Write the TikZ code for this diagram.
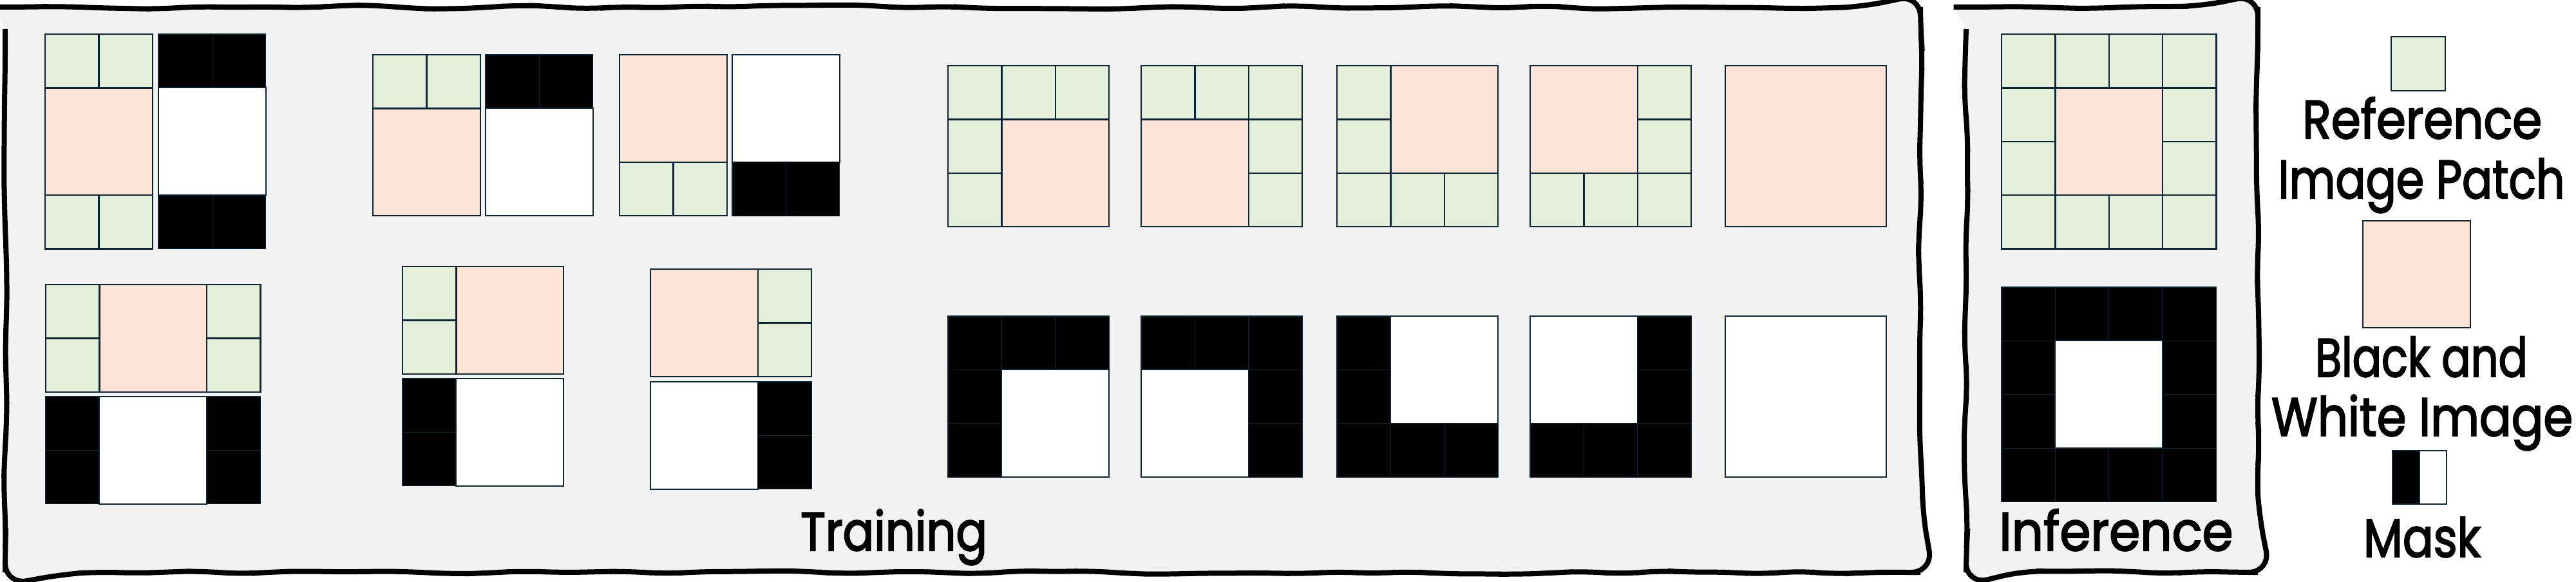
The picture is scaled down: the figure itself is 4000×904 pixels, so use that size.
\documentclass[tikz,border=0pt]{standalone}
\usepackage{fontspec}
\setmainfont{Poppins}
\newfontfamily\lblfont{Poppins}[FakeBold=2.6]
\usepackage{graphicx}
\usetikzlibrary{decorations.pathmorphing}
\definecolor{bgC}{HTML}{F2F2F2}
\definecolor{gC}{HTML}{E2EFDA}
\definecolor{pC}{HTML}{FCE4D6}
\definecolor{lineC}{HTML}{0E2433}
\tikzset{
  gcell/.style={fill=gC, draw=lineC, line width=2.5pt},
  pcell/.style={fill=pC, draw=lineC, line width=2.5pt},
  bcell/.style={fill=black, draw=lineC, line width=1.3pt},
  wcell/.style={fill=white, draw=lineC, line width=2pt},
  gpos/.style 2 args={xshift=#1pt, yshift=-#2pt, x=83.4pt, y=-83.4pt},
  handbox/.style={draw=black, line width=8pt, fill=bgC, decorate,
    decoration={random steps, segment length=55pt, amplitude=3.5pt},
    rounded corners=34pt},
  lbl/.style={font=\lblfont\fontsize{84}{96}\selectfont, inner sep=0pt, anchor=base}
}
\newcommand\cellG[2]{\draw[gcell] (#1,#2) rectangle ++(1,1);}
\newcommand\cellB[2]{\draw[bcell] (#1,#2) rectangle ++(1,1);}
\newcommand\blockP[4]{\draw[pcell] (#1,#2) rectangle (#3,#4);}
\newcommand\blockW[4]{\draw[wcell] (#1,#2) rectangle (#3,#4);}
\begin{document}
\begin{tikzpicture}[x=1pt, y=-1pt]
\pgfmathsetseed{11}
\useasboundingbox (0,0) rectangle (4000,904);
\fill[white] (0,0) rectangle (4000,904);
% frames
\draw[handbox] (8,11) rectangle (2982,889);
\draw[handbox] (3053,11) rectangle (3506,889);
% ---------- G1
\begin{scope}[gpos={70}{53}]
\cellG{0}{0}\cellG{1}{0}\blockP{0}{1}{2}{3}\cellG{0}{3}\cellG{1}{3}
\end{scope}
\begin{scope}[gpos={246}{53}]
\cellB{0}{0}\cellB{1}{0}\blockW{0}{1}{2}{3}\cellB{0}{3}\cellB{1}{3}
\end{scope}
% ---------- G2
\begin{scope}[gpos={579}{85}]
\cellG{0}{0}\cellG{1}{0}\blockP{0}{1}{2}{3}
\end{scope}
\begin{scope}[gpos={754}{85}]
\cellB{0}{0}\cellB{1}{0}\blockW{0}{1}{2}{3}
\end{scope}
% ---------- G3
\begin{scope}[gpos={962}{85}]
\blockP{0}{0}{2}{2}\cellG{0}{2}\cellG{1}{2}
\end{scope}
\begin{scope}[gpos={1137}{85}]
\blockW{0}{0}{2}{2}\cellB{0}{2}\cellB{1}{2}
\end{scope}
% ---------- G4
\begin{scope}[gpos={71}{442}]
\cellG{0}{0}\cellG{0}{1}\blockP{1}{0}{3}{2}\cellG{3}{0}\cellG{3}{1}
\end{scope}
\begin{scope}[gpos={71}{616}]
\cellB{0}{0}\cellB{0}{1}\blockW{1}{0}{3}{2}\cellB{3}{0}\cellB{3}{1}
\end{scope}
% ---------- G5
\begin{scope}[gpos={625}{414}]
\cellG{0}{0}\cellG{0}{1}\blockP{1}{0}{3}{2}
\end{scope}
\begin{scope}[gpos={625}{588}]
\cellB{0}{0}\cellB{0}{1}\blockW{1}{0}{3}{2}
\end{scope}
% ---------- G6
\begin{scope}[gpos={1010}{418}]
\blockP{0}{0}{2}{2}\cellG{2}{0}\cellG{2}{1}
\end{scope}
\begin{scope}[gpos={1010}{593}]
\blockW{0}{0}{2}{2}\cellB{2}{0}\cellB{2}{1}
\end{scope}
% ---------- G7
\begin{scope}[gpos={1472}{102}]
\cellG{0}{0}\cellG{1}{0}\cellG{2}{0}\cellG{0}{1}\cellG{0}{2}\blockP{1}{1}{3}{3}
\end{scope}
\begin{scope}[gpos={1472}{491}]
\cellB{0}{0}\cellB{1}{0}\cellB{2}{0}\cellB{0}{1}\cellB{0}{2}\blockW{1}{1}{3}{3}
\end{scope}
% ---------- G8
\begin{scope}[gpos={1772}{102}]
\cellG{0}{0}\cellG{1}{0}\cellG{2}{0}\blockP{0}{1}{2}{3}\cellG{2}{1}\cellG{2}{2}
\end{scope}
\begin{scope}[gpos={1772}{491}]
\cellB{0}{0}\cellB{1}{0}\cellB{2}{0}\blockW{0}{1}{2}{3}\cellB{2}{1}\cellB{2}{2}
\end{scope}
% ---------- G9
\begin{scope}[gpos={2076}{102}]
\cellG{0}{0}\cellG{0}{1}\blockP{1}{0}{3}{2}\cellG{0}{2}\cellG{1}{2}\cellG{2}{2}
\end{scope}
\begin{scope}[gpos={2076}{491}]
\cellB{0}{0}\cellB{0}{1}\blockW{1}{0}{3}{2}\cellB{0}{2}\cellB{1}{2}\cellB{2}{2}
\end{scope}
% ---------- G10
\begin{scope}[gpos={2376}{102}]
\blockP{0}{0}{2}{2}\cellG{2}{0}\cellG{2}{1}\cellG{0}{2}\cellG{1}{2}\cellG{2}{2}
\end{scope}
\begin{scope}[gpos={2376}{491}]
\blockW{0}{0}{2}{2}\cellB{2}{0}\cellB{2}{1}\cellB{0}{2}\cellB{1}{2}\cellB{2}{2}
\end{scope}
% ---------- G11
\begin{scope}[gpos={2679}{102}]
\blockP{0}{0}{3}{3}
\end{scope}
\begin{scope}[gpos={2679}{491}]
\blockW{0}{0}{3}{3}
\end{scope}
% ---------- Inference
\begin{scope}[gpos={3108}{53}]
\foreach \i in {0,1,2,3} {\cellG{\i}{0}\cellG{\i}{3}}
\cellG{0}{1}\cellG{0}{2}\cellG{3}{1}\cellG{3}{2}
\blockP{1}{1}{3}{3}
\end{scope}
\begin{scope}[gpos={3108}{446}]
\foreach \i in {0,1,2,3} {\cellB{\i}{0}\cellB{\i}{3}}
\cellB{0}{1}\cellB{0}{2}\cellB{3}{1}\cellB{3}{2}
\blockW{1}{1}{3}{3}
\end{scope}
% ---------- Legend
\draw[gcell] (3713,57) rectangle (3797,141);
\draw[pcell] (3669,343) rectangle (3836,509);
\draw[bcell] (3715,700) rectangle (3757,783);
\draw[wcell] (3757,700) rectangle (3799,783);
% ---------- Labels
\node[lbl] (train) at (1388,855) {\resizebox{290pt}{\height}{Training}};
\node[lbl] (infer) at (3286,855) {\resizebox{363pt}{\height}{Inference}};
\node[lbl] (ref1) at (3761,215) {\resizebox{372pt}{\height}{Reference}};
\node[lbl] (ref2) at (3760,308) {\resizebox{445pt}{\height}{Image Patch}};
\node[lbl] (bw1) at (3760,585) {\resizebox{330pt}{\height}{Black and}};
\node[lbl] (bw2) at (3761,677) {\resizebox{468pt}{\height}{White Image}};
\node[lbl] (mask) at (3761,865) {\resizebox{182pt}{\height}{Mask}};
\end{tikzpicture}
\end{document}
